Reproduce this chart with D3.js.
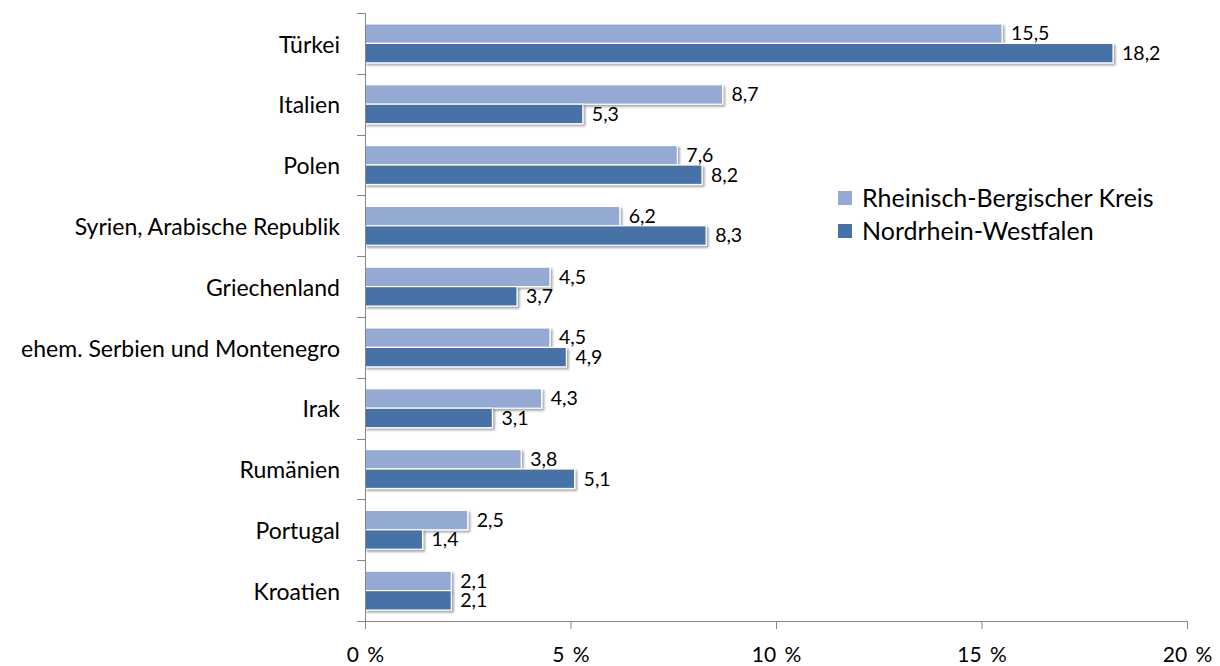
<!DOCTYPE html>
<html>
<head>
<meta charset="utf-8">
<script src="https://cdn.jsdelivr.net/npm/d3@7"></script>
<style>
  body { margin: 0; background: #fff; }
  svg { display: block; font-family: Lato, "Open Sans", sans-serif; }
</style>
</head>
<body>
<div id="chart"></div>
<script>
// herkunftsländer: anteil in % (Rheinisch-Bergischer Kreis vs. NRW)
const categories = ["Türkei", "Italien", "Polen", "Syrien, Arabische Republik", "Griechenland",
  "ehem. Serbien und Montenegro", "Irak", "Rumänien", "Portugal", "Kroatien"];
const seriesNames = ["Rheinisch-Bergischer Kreis", "Nordrhein-Westfalen"];
const rbkValues = [15.5, 8.7, 7.6, 6.2, 4.5, 4.5, 4.3, 3.8, 2.5, 2.1];
const nrwValues = [18.2, 5.3, 8.2, 8.3, 3.7, 4.9, 3.1, 5.1, 1.4, 2.1];
const xTicks = [0, 5, 10, 15, 20];

const colors = ["#94aad3", "#4672a8"];
const width = 1220, height = 666;
const plot = { left: 365, right: 1187, top: 13, bottom: 621 };

const svg = d3.select("#chart").append("svg")
  .attr("width", width)
  .attr("height", height);

// soft drop shadow like the office chart
const defs = svg.append("defs");
const filter = defs.append("filter").attr("id", "shadow")
  .attr("x", "-5%").attr("y", "-30%").attr("width", "115%").attr("height", "180%");
filter.append("feGaussianBlur").attr("in", "SourceAlpha").attr("stdDeviation", 1.3).attr("result", "blur");
filter.append("feOffset").attr("in", "blur").attr("dx", 1.5).attr("dy", 2).attr("result", "off");
filter.append("feComponentTransfer").attr("in", "off").attr("result", "soft")
  .append("feFuncA").attr("type", "linear").attr("slope", 0.35);
const merge = filter.append("feMerge");
merge.append("feMergeNode").attr("in", "soft");
merge.append("feMergeNode").attr("in", "SourceGraphic");

const x = d3.scaleLinear().domain([0, 20]).range([plot.left, plot.right]);
const y0 = d3.scaleBand().domain(categories).range([plot.top, plot.bottom]).padding(0);
const y1 = d3.scaleBand().domain(seriesNames)
  .range([y0.bandwidth() * 0.18, y0.bandwidth() * 0.82]).padding(0);

const rows = categories.map((c, i) => ({
  cat: c,
  vals: [
    { s: seriesNames[0], v: rbkValues[i], c: colors[0] },
    { s: seriesNames[1], v: nrwValues[i], c: colors[1] }
  ]
}));

const groups = svg.append("g").selectAll("g.cat")
  .data(rows).enter().append("g")
  .attr("class", "cat")
  .attr("transform", d => "translate(0," + y0(d.cat) + ")");

groups.selectAll("rect")
  .data(d => d.vals).enter().append("rect")
  .attr("x", x(0))
  .attr("y", d => y1(d.s))
  .attr("width", d => x(d.v) - x(0))
  .attr("height", y1.bandwidth())
  .attr("fill", d => d.c)
  .attr("stroke", "#fff")
  .attr("stroke-width", 1.2)
  .attr("filter", "url(#shadow)");

const fmt = v => v.toFixed(1).replace(".", ",");

groups.selectAll("text.val")
  .data(d => d.vals).enter().append("text")
  .attr("class", "val")
  .attr("x", d => x(d.v) + 9)
  .attr("y", d => y1(d.s) + y1.bandwidth() / 2)
  .attr("dy", "0.35em")
  .style("font-size", "19.5px")
  .style("fill", "#000")
  .text(d => fmt(d.v));

// axes
const axisColor = "#868686";
const xAxis = svg.append("g")
  .attr("transform", "translate(0," + plot.bottom + ")")
  .call(d3.axisBottom(x).tickValues(xTicks).tickSize(8).tickSizeOuter(0).tickFormat(d => d + "\u2009%"));
xAxis.select(".domain").attr("stroke", axisColor).attr("d", "M" + (plot.left - 8) + ",0.5H" + plot.right);
xAxis.selectAll(".tick line").attr("stroke", axisColor);
xAxis.selectAll(".tick text")
  .attr("y", 26)
  .attr("dy", "0.71em")
  .style("font-size", "21px")
  .style("font-family", "Lato, sans-serif")
  .style("word-spacing", "3px")
  .style("fill", "#000")
  .text(d => d + " %");

const yAxisG = svg.append("g");
yAxisG.append("line")
  .attr("x1", plot.left + 0.5).attr("x2", plot.left + 0.5)
  .attr("y1", plot.top).attr("y2", plot.bottom)
  .attr("stroke", axisColor);
const boundaries = categories.map(c => y0(c));
yAxisG.selectAll("line.tick")
  .data(boundaries).enter().append("line")
  .attr("class", "tick")
  .attr("x1", plot.left - 8).attr("x2", plot.left)
  .attr("y1", d => Math.round(d) + 0.5).attr("y2", d => Math.round(d) + 0.5)
  .attr("stroke", axisColor);

yAxisG.selectAll("text.cat")
  .data(categories).enter().append("text")
  .attr("class", "cat")
  .attr("x", 340)
  .attr("y", d => y0(d) + y0.bandwidth() / 2 + 1)
  .attr("dy", "0.36em")
  .attr("text-anchor", "end")
  .style("font-size", "23px")
  .style("fill", "#000")
  .text(d => d);

// legend
const legend = svg.append("g").attr("transform", "translate(838,198)");
const li = legend.selectAll("g").data(seriesNames).enter().append("g")
  .attr("transform", (d, i) => "translate(0," + i * 33 + ")");
li.append("rect")
  .attr("x", 0).attr("y", -7)
  .attr("width", 14).attr("height", 14)
  .attr("fill", (d, i) => colors[i]);
li.append("text")
  .attr("x", 24).attr("y", 0).attr("dy", "0.36em")
  .style("font-size", "25px")
  .style("fill", "#000")
  .text(d => d);
</script>
</body>
</html>
